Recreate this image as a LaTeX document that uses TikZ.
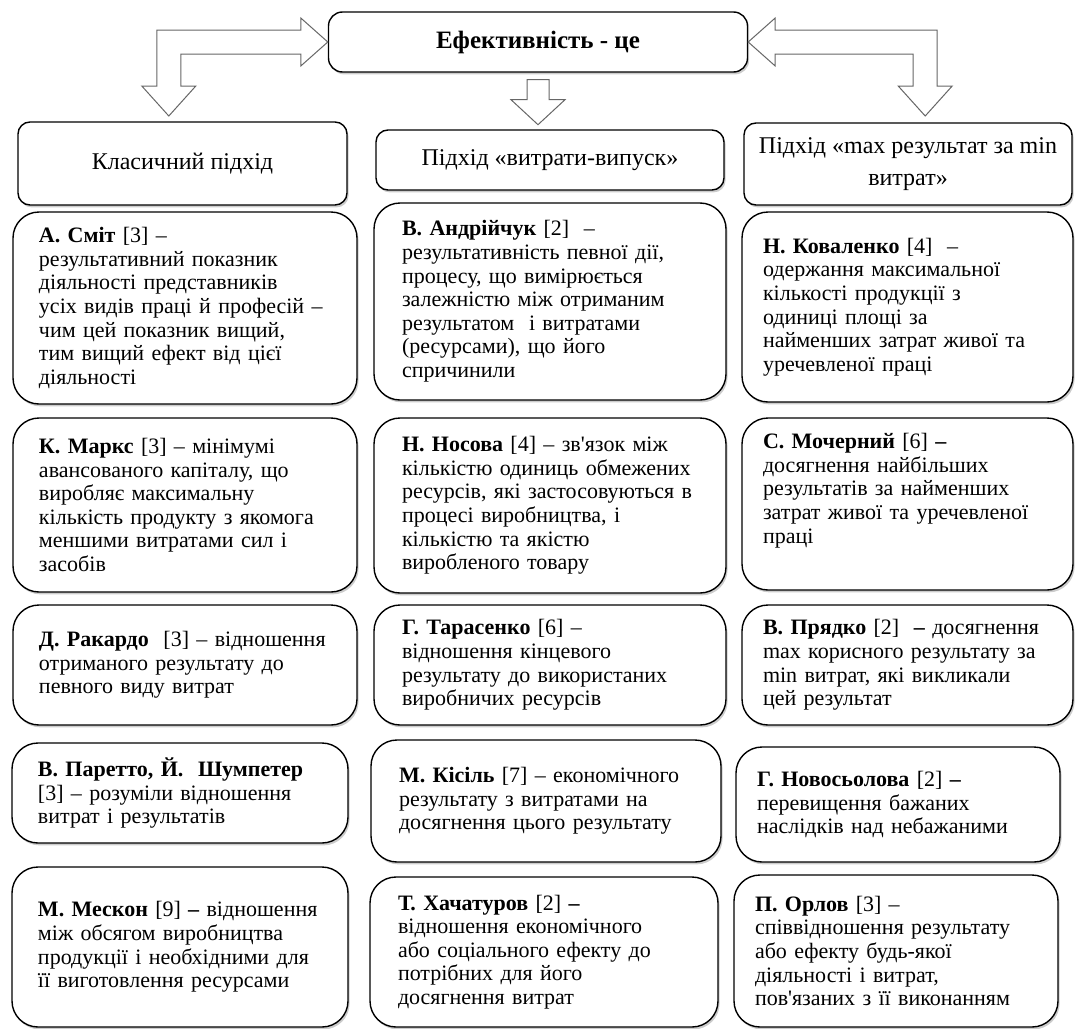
\documentclass[tikz,border=0pt]{standalone}
\usepackage{fontspec}
\setmainfont{Liberation Serif}[Ligatures=TeXOff]
\usetikzlibrary{calc, shadows}

\begin{document}
\begin{tikzpicture}[x=0.5pt, y=-0.5pt,
    card/.style = {draw, line width=0.7pt, rounded corners=13pt, fill=white, align=left,
        inner xsep=13pt, inner ysep=0pt, font=\fontsize{11pt}{11.8pt}\selectfont,
        drop shadow={shadow xshift=0.8pt, shadow yshift=-1.2pt, opacity=0.4}},
    head/.style = {card, rounded corners=6pt, align=center, inner xsep=4pt, font=\fontsize{12pt}{16pt}\selectfont},
    barrow/.style = {draw=black!60, line width=0.5pt, fill=white, line join=miter}]
        \useasboundingbox (0,0) rectangle (1076,1028);

        % top and the three approaches
        \node[head, rounded corners=7pt, font=\fontsize{12.5pt}{14pt}\selectfont\bfseries,
            minimum width=209.5pt, minimum height=30pt] (title) at (538,42) {Ефективність - це};
        \node[head, minimum width=164.5pt, minimum height=41.5pt] (classic) at (182.5,163.5) {Класичний підхід};
        \node[head, minimum width=174pt, minimum height=30pt] (inout) at (550,160) {Підхід «витрати-випуск»};
        \node[head, minimum width=164pt, minimum height=41pt] (maxmin) at (908,164) {Підхід «max результат за min\\витрат»};

        % block arrows
        \draw[barrow] (title.west) -- ++(-27,-24) -- ++(0,12) -- ++(-144,0) -- ++(0,56) -- ++(-15,0)
            -- ++(27,30) -- ++(27,-30) -- ++(-15,0) -- ++(0,-32) -- ++(120,0) -- ++(0,12) -- cycle;
        \draw[barrow] (title.east) -- ++(27,-24) -- ++(0,12) -- ++(162,0) -- ++(0,56) -- ++(15,0)
            -- ++(-27,30) -- ++(-27,-30) -- ++(15,0) -- ++(0,-32) -- ++(-138,0) -- ++(0,12) -- cycle;
        \draw[barrow] ($(title.south)+(-11,7)$) -- ++(22,0) -- ++(0,20) -- ++(16,0) -- ++(-27,25)
            -- ++(-27,-25) -- ++(16,0) -- cycle;

        % classic approach
        \node[card, text width=146pt, minimum height=96pt] (smith) at (185,308) {\textbf{А. Сміт} [3] –\\
            результативний показник\\ діяльності представників\\ усіх видів праці й професій –\\
            чим цей показник вищий,\\ тим вищий ефект від цієї\\ діяльності};
        \node[card, text width=146pt, minimum height=87pt] (marx) at (185,505) {\textbf{К. Маркс} [3] – мінімумі\\
            авансованого капіталу, що\\ виробляє максимальну\\ кількість продукту з якомога\\
            меншими витратами сил і\\ засобів};
        \node[card, text width=146pt, minimum height=60pt] (ricardo) at (185,665) {\textbf{Д. Ракардо}\ \ [3] – відношення\\
            отриманого результату до\\ певного виду витрат};
        \node[card, text width=142pt, minimum height=50pt] (pareto) at (180,793) {\textbf{В. Паретто, Й.\ \ Шумпетер}\\
            {[3]} – розуміли відношення\\ витрат і результатів};
        \node[card, text width=142pt, minimum height=80pt] (mescon) at (180,947) {\textbf{М. Мескон} [9] \textbf{–} відношення\\
            між обсягом виробництва\\ продукції і необхідними для\\ її виготовлення ресурсами};

        % input-output approach
        \node[card, inner xsep=14pt, text width=148pt, minimum height=98.5pt] (andr) at (550,301.5) {\textbf{В. Андрійчук} [2]\ \ –\\
            результативність певної дії,\\ процесу, що вимірюється\\ залежністю між отриманим\\
            результатом\ \ і витратами\\ (ресурсами), що його\\ спричинили};
        \node[card, inner xsep=14pt, text width=148pt, minimum height=87.5pt] (nosova) at (550,505.5) {\textbf{Н. Носова} [4] – зв'язок між\\
            кількістю одиниць обмежених\\ ресурсів, які застосовуються в\\ процесі виробництва, і\\
            кількістю та якістю\\ виробленого товару};
        \node[card, inner xsep=14pt, text width=148pt, minimum height=60pt] (taras) at (550,665) {\textbf{Г. Тарасенко} [6] –\\
            відношення кінцевого\\ результату до використаних\\ виробничих ресурсів};
        \node[card, inner xsep=14pt, text width=147pt, minimum height=61pt] (kisil) at (546,801) {\textbf{М. Кісіль} [7] – економічного\\
            результату з витратами на\\ досягнення цього результату};
        \node[card, inner xsep=14pt, text width=146pt, minimum height=75pt] (khach) at (544,952) {\textbf{Т. Хачатуров} [2] \textbf{–}\\
            відношення економічного\\ або соціального ефекту до\\ потрібних для його\\ досягнення витрат};

        % max result for min costs
        \node[card, inner xsep=10.5pt, text width=144.5pt, minimum height=95pt] (koval) at (907.5,307) {\textbf{Н. Коваленко} [4]\ \ –\\
            одержання максимальної\\ кількості продукції з\\ одиниці площі за\\
            найменших затрат живої та\\ уречевленої праці};
        \node[card, inner xsep=10.5pt, text width=144.5pt, minimum height=86pt] (mocher) at (907.5,504) {\textbf{С. Мочерний} [6] \textbf{–}\\
            досягнення найбільших\\ результатів за найменших\\ затрат живої та уречевленої\\ праці\\[4pt]~};
        \node[card, inner xsep=10.5pt, text width=144.5pt, minimum height=60pt] (pryadko) at (907.5,665) {\textbf{В. Прядко} [2]\ \ \textbf{–} досягнення\\
            max корисного результату за\\ min витрат, які викликали\\ цей результат};
        \node[card, inner xsep=10.5pt, text width=141pt, minimum height=57.5pt] (novos) at (898,804.5) {\textbf{Г. Новосьолова} [2] \textbf{–}\\
            перевищення бажаних\\ наслідків над небажаними};
        \node[card, inner xsep=10.5pt, text width=141pt, minimum height=76pt] (orlov) at (896,951) {\textbf{П. Орлов} [3] –\\
            співвідношення результату\\ або ефекту будь-якої\\ діяльності і витрат,\\
            пов'язаних з її виконанням};
\end{tikzpicture}
\end{document}
